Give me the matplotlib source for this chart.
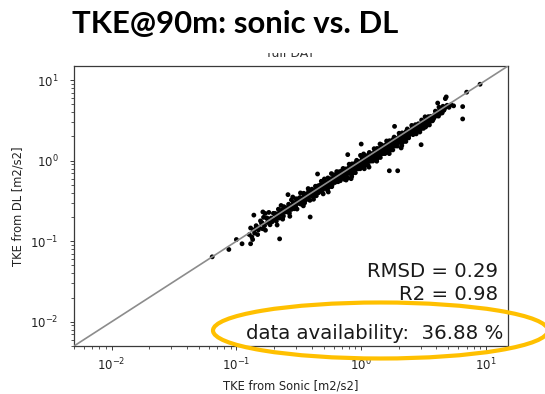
import matplotlib
matplotlib.use("Agg")
import matplotlib.pyplot as plt
from matplotlib.patches import Ellipse, Rectangle

# TKE at 90 m: sonic anemometer (x) vs. Doppler lidar (y), m2/s2
sonic_tke = [
    0.127, 0.130, 0.133, 0.137, 0.140, 0.144, 0.148, 0.152, 0.156, 0.135,
    0.159, 0.162, 0.165, 0.168, 0.171, 0.175, 0.178, 0.182, 0.186, 0.190, 0.194, 0.198, 0.170,
    0.201, 0.205, 0.209, 0.213, 0.217, 0.221, 0.226, 0.230, 0.235, 0.240, 0.245, 0.250, 0.212, 0.228, 0.238,
    0.252, 0.257, 0.262, 0.266, 0.271, 0.276, 0.281, 0.286, 0.291, 0.296, 0.301, 0.306, 0.311, 0.315, 0.268, 0.283, 0.298,
    0.318, 0.323, 0.328, 0.334, 0.340, 0.346, 0.352, 0.358, 0.364, 0.370, 0.376, 0.382, 0.388, 0.394, 0.326, 0.344, 0.361, 0.379, 0.391, 0.336,
    0.400, 0.406, 0.412, 0.418, 0.424, 0.430, 0.437, 0.444, 0.451, 0.458, 0.465, 0.472, 0.479, 0.486, 0.493, 0.500,
    0.403, 0.415, 0.427, 0.440, 0.454, 0.468, 0.482, 0.496,
    0.503, 0.510, 0.517, 0.525, 0.533, 0.541, 0.549, 0.557, 0.565, 0.573, 0.581, 0.589, 0.598, 0.607, 0.616, 0.625,
    0.507, 0.521, 0.537, 0.553, 0.569, 0.585, 0.602, 0.620, 0.545, 0.577,
    0.633, 0.640, 0.648, 0.656, 0.664, 0.672, 0.680, 0.689, 0.698, 0.707, 0.716, 0.725, 0.734, 0.743, 0.752, 0.762, 0.772, 0.782, 0.792,
    0.637, 0.652, 0.668, 0.685, 0.702, 0.720, 0.738, 0.757, 0.777,
    0.797, 0.806, 0.815, 0.825, 0.835, 0.845, 0.855, 0.865, 0.876, 0.887, 0.898, 0.909, 0.920, 0.932, 0.944, 0.956, 0.968, 0.980, 0.993,
    0.801, 0.820, 0.840, 0.860, 0.881, 0.903, 0.926, 0.950, 0.974, 0.987, 0.830,
    1.003, 1.015, 1.027, 1.040, 1.053, 1.066, 1.079, 1.092, 1.106, 1.120, 1.134, 1.148, 1.162, 1.177, 1.192, 1.207, 1.222, 1.238, 1.254,
    1.009, 1.033, 1.059, 1.085, 1.113, 1.141, 1.170, 1.199, 1.230, 1.046, 1.155,
    1.262, 1.277, 1.292, 1.308, 1.324, 1.340, 1.356, 1.372, 1.389, 1.406, 1.423, 1.440, 1.458, 1.476, 1.494, 1.512, 1.531, 1.550, 1.569,
    1.270, 1.300, 1.332, 1.364, 1.397, 1.431, 1.467, 1.503, 1.540, 1.578, 1.415,
    1.589, 1.608, 1.628, 1.648, 1.668, 1.688, 1.708, 1.729, 1.750, 1.771, 1.792, 1.814, 1.836, 1.858, 1.881, 1.904, 1.927, 1.950, 1.974,
    1.598, 1.638, 1.678, 1.718, 1.760, 1.803, 1.847, 1.892, 1.938,
    2.000, 2.025, 2.050, 2.075, 2.100, 2.130, 2.160, 2.190, 2.220, 2.250, 2.280, 2.310, 2.340, 2.370, 2.400, 2.430, 2.460, 2.490,
    2.012, 2.063, 2.115, 2.175, 2.235, 2.295, 2.355, 2.445,
    2.52, 2.56, 2.60, 2.64, 2.68, 2.72, 2.76, 2.80, 2.85, 2.90, 2.95, 3.00, 3.05, 3.10, 3.15,
    2.54, 2.62, 2.70, 2.78, 2.875, 2.975, 3.075,
    3.17, 3.22, 3.28, 3.34, 3.40, 3.46, 3.52, 3.58, 3.65, 3.72, 3.79, 3.86, 3.93,
    3.25, 3.37, 3.49, 3.62, 3.76,
    4.00, 4.08, 4.16, 4.25, 4.34, 4.43, 4.52, 4.62, 4.75, 4.88, 4.20, 4.45,
    4.80, 5.05, 5.25, 5.50, 4.72, 4.10,
    6.5, 6.5, 7.0, 8.96, 0.064, 0.087, 0.100, 0.111, 0.130, 0.222, 0.138, 0.39,
    1.68, 1.96, 3.02, 0.447, 0.78, 1.00, 2.09, 1.85, 0.259, 0.163,
    # core of the cloud
    0.255, 0.265, 0.275, 0.285, 0.295, 0.305, 0.320, 0.332, 0.348, 0.356, 0.368, 0.385, 0.397,
    0.405, 0.416, 0.426, 0.436, 0.447, 0.457, 0.470, 0.481, 0.492, 0.499,
    0.505, 0.515, 0.527, 0.539, 0.551, 0.563, 0.575, 0.587, 0.600, 0.612, 0.623,
    0.635, 0.646, 0.659, 0.670, 0.683, 0.695, 0.709, 0.722, 0.736, 0.749, 0.765, 0.780,
    0.799, 0.811, 0.823, 0.838, 0.852, 0.868, 0.884, 0.900, 0.917, 0.935, 0.952, 0.971, 0.990,
    1.006, 1.021, 1.036, 1.050, 1.070, 1.088, 1.110, 1.127, 1.145, 1.166, 1.185, 1.204, 1.226, 1.248,
    1.266, 1.285, 1.304, 1.320, 1.345, 1.368, 1.393, 1.418, 1.445, 1.470, 1.498, 1.525, 1.555, 1.575,
    1.594, 1.618, 1.643, 1.672, 1.698, 1.724, 1.755, 1.782, 1.809, 1.842, 1.870, 1.898, 1.930, 1.962, 1.988,
    2.006, 2.040, 2.070, 2.110, 2.145, 2.180, 2.210, 2.245, 2.270, 2.300, 2.330, 2.365, 2.410, 2.440, 2.470, 2.500,
    2.53, 2.58, 2.63, 2.66, 2.70, 2.74, 2.79, 2.83, 2.88, 2.93, 2.98, 3.03, 3.08, 3.13,
    3.19, 3.26, 3.31, 3.38, 3.44, 3.50, 3.56, 3.63, 3.70, 3.78, 3.84, 3.90, 3.97,
    4.04, 4.12, 4.22, 4.30, 4.39, 4.48, 4.57, 4.68,
    0.142, 0.150, 0.161, 0.167, 0.176, 0.184, 0.192, 0.203, 0.211, 0.219, 0.232, 0.243,
]
dl_tke = [
    0.121, 0.146, 0.113, 0.137, 0.126, 0.156, 0.121, 0.147, 0.179, 0.105,
    0.167, 0.143, 0.198, 0.156, 0.137, 0.193, 0.173, 0.228, 0.160, 0.194, 0.175, 0.222, 0.221,
    0.185, 0.221, 0.178, 0.213, 0.250, 0.194, 0.217, 0.242, 0.188, 0.269, 0.230, 0.250, 0.159, 0.278, 0.205,
    0.260, 0.231, 0.288, 0.223, 0.266, 0.326, 0.261, 0.303, 0.253, 0.296, 0.337, 0.251, 0.295, 0.337, 0.204, 0.354, 0.271,
    0.308, 0.349, 0.289, 0.341, 0.316, 0.394, 0.299, 0.354, 0.386, 0.333, 0.451, 0.363, 0.322, 0.410, 0.398, 0.275, 0.332, 0.417, 0.379, 0.336,
    0.376, 0.426, 0.358, 0.418, 0.386, 0.482, 0.367, 0.431, 0.487, 0.408, 0.465, 0.439, 0.556, 0.418, 0.483, 0.450,
    0.443, 0.332, 0.406, 0.449, 0.400, 0.496, 0.443, 0.387,
    0.483, 0.546, 0.455, 0.525, 0.490, 0.611, 0.467, 0.540, 0.588, 0.516, 0.476, 0.589, 0.562, 0.668, 0.536, 0.600,
    0.593, 0.469, 0.430, 0.564, 0.529, 0.503, 0.632, 0.558, 0.409, 0.692,
    0.589, 0.666, 0.557, 0.643, 0.598, 0.732, 0.564, 0.655, 0.698, 0.622, 0.802, 0.667, 0.587, 0.721, 0.790, 0.663, 0.726, 0.610, 0.808,
    0.733, 0.548, 0.641, 0.617, 0.751, 0.612, 0.731, 0.575, 0.707,
    0.733, 0.830, 0.693, 0.800, 0.743, 0.913, 0.701, 0.813, 0.876, 0.772, 0.709, 0.864, 1.012, 0.839, 0.793, 0.975, 0.900, 0.794, 0.963,
    0.905, 0.722, 0.638, 0.851, 0.802, 0.948, 0.796, 0.903, 0.867, 1.165, 0.598,
    0.913, 1.035, 0.863, 0.998, 0.927, 1.141, 0.874, 1.016, 1.095, 0.963, 0.885, 1.091, 1.267, 1.059, 0.989, 1.219, 1.124, 0.990, 1.204,
    1.130, 0.899, 0.794, 1.063, 1.002, 1.187, 0.995, 1.127, 1.082, 1.213, 0.832,
    1.136, 1.290, 1.072, 1.243, 1.152, 1.420, 1.085, 1.262, 1.361, 1.195, 1.096, 1.354, 1.575, 1.314, 1.225, 1.512, 1.393, 1.225, 1.491,
    1.410, 1.118, 0.986, 1.323, 1.243, 1.474, 1.232, 1.398, 1.340, 1.578, 1.613,
    1.430, 1.608, 1.335, 1.549, 1.434, 1.772, 1.349, 1.573, 1.698, 1.488, 1.362, 1.687, 1.965, 1.635, 1.524, 1.885, 1.734, 1.521, 1.856,
    1.758, 1.392, 1.225, 1.649, 1.549, 1.839, 1.533, 1.741, 1.667,
    1.780, 2.005, 1.681, 1.930, 1.785, 2.215, 1.706, 1.971, 2.131, 1.890, 1.733, 2.125, 2.480, 2.062, 1.920, 2.381, 2.189, 2.366,
    2.193, 1.733, 1.544, 2.066, 1.944, 2.318, 1.931, 2.225,
    2.218, 2.509, 2.106, 2.429, 2.278, 2.802, 2.153, 2.520, 2.708, 2.407, 2.272, 2.730, 3.203, 2.666, 2.520,
    2.743, 2.175, 2.538, 2.419, 2.875, 2.440, 2.768,
    2.790, 3.123, 2.624, 3.073, 2.890, 3.529, 2.781, 3.222, 3.468, 3.125, 3.335, 3.590, 4.127,
    3.510, 2.763, 3.106, 3.548, 3.234,
    3.600, 3.958, 3.578, 4.250, 3.993, 4.209, 4.746, 4.297, 4.655, 4.880, 4.620, 3.916,
    6.20, 4.60, 4.95, 4.80, 5.90, 5.20,
    3.3, 4.7, 7.1, 8.9, 0.064, 0.079, 0.105, 0.093, 0.093, 0.107, 0.211, 0.20,
    0.75, 0.75, 1.58, 0.684, 1.19, 1.61, 1.44, 2.67, 0.379, 0.231,
    # core of the cloud
    0.247, 0.276, 0.248, 0.285, 0.280, 0.323, 0.298, 0.329, 0.365, 0.324, 0.368, 0.370, 0.429,
    0.397, 0.428, 0.392, 0.436, 0.425, 0.484, 0.423, 0.476, 0.502, 0.469,
    0.490, 0.469, 0.538, 0.512, 0.545, 0.495, 0.598, 0.546, 0.588, 0.551, 0.629,
    0.610, 0.581, 0.659, 0.623, 0.663, 0.605, 0.730, 0.664, 0.707, 0.667, 0.757, 0.733,
    0.759, 0.722, 0.815, 0.771, 0.818, 0.746, 0.902, 0.819, 0.871, 0.823, 0.933, 0.903, 0.891,
    0.946, 0.898, 1.015, 0.956, 1.017, 0.925, 1.121, 1.014, 1.076, 1.014, 1.149, 1.108, 1.091, 1.186,
    1.177, 1.118, 1.265, 1.188, 1.264, 1.149, 1.393, 1.262, 1.344, 1.264, 1.438, 1.388, 1.368, 1.481,
    1.466, 1.391, 1.577, 1.488, 1.579, 1.431, 1.737, 1.568, 1.664, 1.566, 1.777, 1.708, 1.679, 1.825, 1.928,
    1.825, 1.754, 1.967, 1.857, 1.973, 1.809, 2.166, 1.953, 2.066, 1.955, 2.190, 2.105, 2.073, 2.245, 2.371, 2.200,
    2.302, 2.219, 2.499, 2.341, 2.484, 2.274, 2.706, 2.462, 2.621, 2.491, 2.801, 2.697, 2.864, 3.005,
    2.903, 2.804, 3.145, 2.974, 3.199, 2.940, 3.453, 3.194, 3.404, 3.591, 3.456, 3.744, 3.692,
    3.757, 3.626, 4.051, 3.870, 4.171, 4.480, 4.204, 4.540,
    0.142, 0.138, 0.169, 0.159, 0.194, 0.166, 0.192, 0.217, 0.196, 0.223, 0.223, 0.255,
]

rmsd = 0.29
r2 = 0.98
availability = 36.88
axis_limits = (0.005, 15)

W, H, DPI = 545, 394, 100
fig = plt.figure(figsize=(W / DPI, H / DPI), dpi=DPI)
ax = fig.add_axes([74 / W, 1 - 346 / H, 434 / W, 280 / H])

ax.set_xscale("log")
ax.set_yscale("log")
ax.set_xlim(*axis_limits)
ax.set_ylim(*axis_limits)

ax.scatter(sonic_tke, dl_tke, s=12, color="black", edgecolors="none", zorder=2)
# 1:1 reference line, drawn over the points
ax.plot(axis_limits, axis_limits, color="#8c8c8c", lw=1.2, zorder=3)

for sp in ax.spines.values():
    sp.set_color("#3a3a3a")
    sp.set_linewidth(0.9)
ax.tick_params(which="major", length=3, width=0.7, labelsize=8.5,
               colors="#3a3a3a", labelcolor="#222222")
ax.tick_params(which="minor", length=2, width=0.6, colors="#3a3a3a")
ax.tick_params(axis="y", which="major", pad=8)
ax.tick_params(axis="x", which="major", pad=4.5)

ax.set_xlabel("TKE from Sonic [m2/s2]", fontsize=8.3, color="#222222", labelpad=5)
ax.set_ylabel("TKE from DL [m2/s2]", fontsize=8.3, color="#222222", labelpad=4)
ax.set_title("full DAT", fontsize=9, color="#333333", pad=6.5)

ax.text(0.977, 0.245, f"RMSD = {rmsd:.2f}", transform=ax.transAxes,
        ha="right", va="baseline", fontsize=14.2, color="#1a1a1a")
ax.text(0.978, 0.164, f"R2 = {r2:.2f}", transform=ax.transAxes,
        ha="right", va="baseline", fontsize=14.2, color="#1a1a1a")
ax.text(0.9885, 0.024, f"data availability:  {availability:.2f} %", transform=ax.transAxes,
        ha="right", va="baseline", fontsize=14.2, color="#1a1a1a")

# slide heading sits over the upper part of the axes title
fig.add_artist(Rectangle((0, 1 - 52.5 / H), 1, 52.5 / H, transform=fig.transFigure,
                         facecolor="white", edgecolor="none", zorder=5))
fig.text(72 / W, 1 - 33.3 / H, "TKE@90m: sonic vs. DL", fontsize=22.4,
         fontweight="bold", family="Lato", ha="left", va="baseline",
         color="black", zorder=6)

# highlight ring around the availability figure
fig.add_artist(Ellipse((380.5 / W, 1 - 330.5 / H), 335 / W, 56 / H,
                       transform=fig.transFigure, fill=False,
                       edgecolor="#FFC000", linewidth=3, zorder=7, clip_on=False))

fig.savefig("out.png", dpi=DPI)
